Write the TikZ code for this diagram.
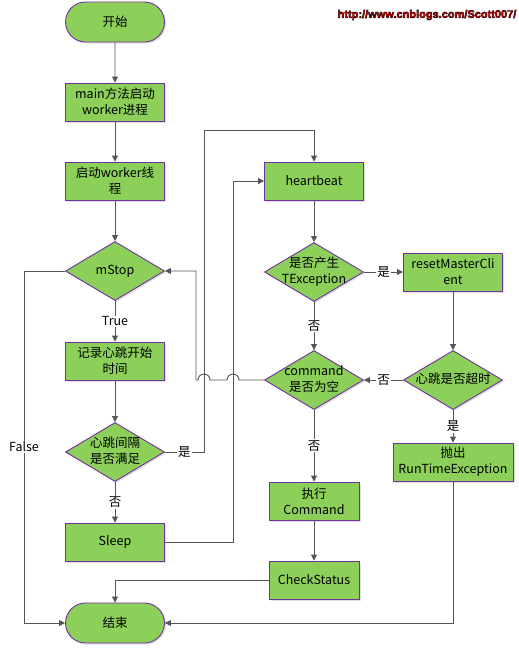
\documentclass[tikz,border=0pt]{standalone}
\usepackage{fontspec}
\setmainfont{Noto Sans CJK SC}
\newfontfamily\wmfont{Liberation Sans}
\usetikzlibrary{arrows.meta,calc,shapes.geometric,shapes.misc,shadows}
\definecolor{boxfill}{RGB}{140,208,90}
\definecolor{boxline}{RGB}{112,48,160}
\definecolor{flowcol}{RGB}{85,85,85}
\definecolor{markred}{RGB}{235,0,0}
% text of a diamond, kept out of the size of the shape
\newcommand{\dtxt}[1]{\raisebox{-0.3em}[0pt][0pt]{\makebox[0pt]{\begin{tabular}{@{}c@{}}#1\end{tabular}}}}
% red text with a dark rim
\newcommand{\rimtxt}[1]{\special{pdf:code q 2 Tr 0.45 w 0.1 0 0 RG 0.93 0 0 rg}#1\special{pdf:code Q}}

\begin{document}
\begin{tikzpicture}[x=1pt,y=-1pt,>={Triangle[length=6pt,width=6pt]},
  every node/.style={font=\fontsize{12.5}{16}\selectfont},
  base/.style={draw=boxline,fill=boxfill,line width=0.9pt,
    drop shadow={shadow xshift=1.5pt,shadow yshift=-1.5pt,opacity=0.25}},
  term/.style={base,rounded rectangle,minimum width=99pt,minimum height=40pt,inner sep=0pt},
  proc/.style={base,rectangle,minimum width=99pt,minimum height=38pt,inner sep=2pt,align=center},
  dec/.style={base,diamond,minimum width=99pt,minimum height=59pt,inner sep=0pt},
  flow/.style={draw=flowcol,line width=0.9pt},
  lbl/.style={fill=white,inner sep=1pt},
  wm/.style={font=\wmfont\bfseries\fontsize{11}{13}\selectfont,inner sep=0pt}]
  \useasboundingbox (0,0) rectangle (519,649);

  % left column
  \node[term] (start) at (115,22) {开始};
  \node[proc] (mainp) at (115,102) {main方法启动\\worker进程};
  \node[proc] (thread) at (115,181) {启动worker线\\程};
  \node[dec] (mstop) at (115,271) {\dtxt{mStop}};
  \node[proc] (rec) at (115,361) {记录心跳开始\\时间};
  \node[dec] (gap) at (115,452) {\dtxt{心跳间隔\\是否满足}};
  \node[proc] (sleep) at (115,542) {Sleep};
  \node[term] (end) at (115,623) {结束};

  % right part
  \node[proc] (hb) at (314,181) {heartbeat};
  \node[dec] (texc) at (314,272) {\dtxt{是否产生\\TException}};
  \node[proc] (reset) at (453,272) {resetMasterCli\\ent};
  \node[dec] (cmd) at (314,380) {\dtxt{command\\是否为空}};
  \node[dec] (tout) at (453,380) {\dtxt{心跳是否超时}};
  \node[proc,minimum width=120pt] (throw) at (453,462) {抛出\\RunTimeException};
  \node[proc,minimum width=90pt] (exec) at (314,501) {执行\\Command};
  \node[proc,minimum width=90pt] (check) at (314,580) {CheckStatus};

  % bends
  \coordinate (falsex) at (24,0);
  \coordinate (upA) at (204,130);
  \coordinate (upB) at (233,181);
  \coordinate (backx) at (196,0);

  \draw[flow,->] (start) -- (mainp);
  \draw[flow,->] (mainp) -- (thread);
  \draw[flow,->] (thread) -- (mstop);
  \draw[flow,->] (mstop) -- node[lbl]{True} (rec);
  \draw[flow,->] (rec) -- (gap);
  \draw[flow,->] (gap) -- node[lbl]{否} (sleep);
  \draw[flow,->] (mstop.west) -- (mstop.west -| falsex)
     -- node[lbl]{False} (end.west -| falsex) -- (end.west);
  \draw[flow,->] (gap.east) -- node[lbl]{是} (gap.east -| upA) -- (upA) -| (hb.north);
  \draw[flow,->] (sleep.east) -- (sleep.east -| upB) -- (upB) -- (hb.west);

  \draw[flow,->] (hb) -- (texc);
  \draw[flow,->] (texc) -- node[lbl]{是} (reset);
  \draw[flow,->] (texc) -- node[lbl]{否} (cmd);
  \draw[flow,->] (reset) -- (tout);
  \draw[flow,->] (tout) -- node[lbl]{否} (cmd);
  \draw[flow,->] (tout) -- node[lbl]{是} (throw);
  \draw[flow,->] (cmd) -- node[lbl]{否} (exec);
  \draw[flow,->] (exec) -- (check);
  \draw[flow,->] (check.west) -| (end.north);
  \draw[flow,->] (throw.south) |- (end.east);
  \draw[flow,->] (cmd.west) -- ($(cmd.west -| upB)+(6,0)$)
     arc[start angle=0,end angle=180,radius=6pt]
     -- ($(cmd.west -| upA)+(6,0)$)
     arc[start angle=0,end angle=180,radius=6pt]
     -- (cmd.west -| backx) |- (mstop.east);

  % watermark
  \node[wm,text=markred] (wm) at (427,15) {\rimtxt{http://www.cnblogs.com/Scott007/}};
\end{tikzpicture}
\end{document}
